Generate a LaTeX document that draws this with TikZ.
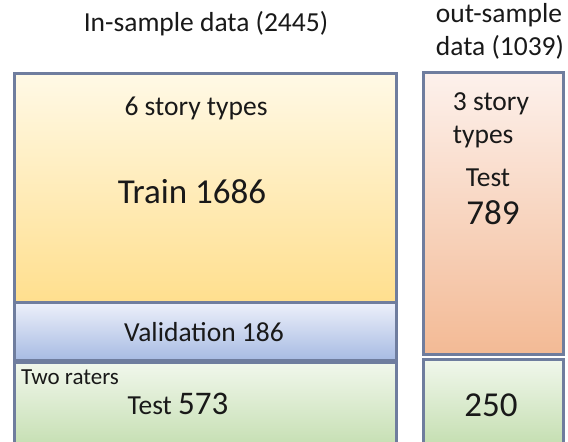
\documentclass[tikz,border=0pt]{standalone}
\usepackage{fontspec}
\setmainfont{Carlito}
\usetikzlibrary{positioning}
\definecolor{boxline}{HTML}{6F7D9E}
\definecolor{trainTop}{HTML}{FFF9E6}
\definecolor{trainBot}{HTML}{FFDF8E}
\definecolor{valTop}{HTML}{EDF0FA}
\definecolor{valBot}{HTML}{A7BBE3}
\definecolor{testTop}{HTML}{F1F7EC}
\definecolor{testBot}{HTML}{C0DCAB}
\definecolor{outTop}{HTML}{FDF1EC}
\definecolor{outBot}{HTML}{F3BA95}
\newcommand{\fs}[1]{\fontsize{#1}{1.2\dimexpr#1pt\relax}\selectfont}

\begin{document}
\begin{tikzpicture}[x=1pt,y=-1pt,
  box/.style={draw=boxline,line width=2.5pt,anchor=north west,inner sep=0pt},
  lbl/.style={font=\fs{27.5},text=black!90,inner sep=0pt},
  big/.style={font=\fs{35},text=black!90,inner sep=0pt}]
  \useasboundingbox[fill=white] (0,0) rectangle (568,442);
  % in-sample column
  \node[box,top color=trainTop,bottom color=trainBot,
    minimum width=382pt,minimum height=229pt] (train) at (13,72) {};
  \node[box,top color=valTop,bottom color=valBot,
    minimum width=382pt,minimum height=58pt] (valid) at (13,301) {};
  \node[box,top color=testTop,bottom color=testBot,
    minimum width=382pt,minimum height=95pt] (test) at (13,361) {};
  % out-sample column
  \node[box,top color=outTop,bottom color=outBot,
    minimum width=140pt,minimum height=282pt] (outtest) at (422,71) {};
  \node[box,top color=testTop,bottom color=testBot,
    minimum width=140pt,minimum height=95pt] (outtwo) at (422,358) {};
  % headings
  \node[lbl] (inhead) at (206,24) {In-sample data (2445)};
  \node[lbl,align=left] (outhead) at (500,31) {out-sample\\data (1039)};
  % labels in the boxes
  \node[lbl] (types) at (196,108) {6 story types};
  \node[big] (trainlbl) at (192,192) {Train 1686};
  \node[lbl] (validlbl) at (204,332) {Validation 186};
  \node[font=\fs{23},text=black!90,inner sep=0pt,anchor=west] (raters) at (21,377) {Two raters};
  \node[lbl] (testlbl) at (178,404) {Test {\fs{33}573}};
  \node[lbl,align=left] (outtypes) at (491,120) {3 story\\types};
  \node[lbl] (outtestlbl) at (488,178) {Test};
  \node[big] (outnum) at (493,213) {789};
  \node[big] (twofifty) at (491,405) {250};
\end{tikzpicture}
\end{document}
